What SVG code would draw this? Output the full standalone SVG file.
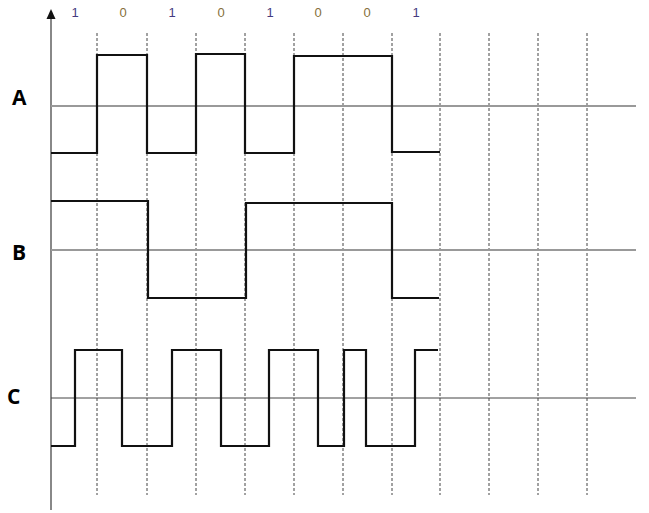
<svg xmlns="http://www.w3.org/2000/svg" width="649" height="513" viewBox="0 0 649 513">
<style>
.grid{stroke:#444;stroke-width:1;stroke-dasharray:3,2;fill:none}
.axis{stroke:#999;stroke-width:2;fill:none}
.axisC{stroke:#444;stroke-width:1;fill:none}
.wave{stroke:#111;stroke-width:2.2;fill:none;stroke-linejoin:miter}
.lbl{font-family:"Open Sans","Liberation Sans",sans-serif;font-weight:bold;font-size:21px;fill:#000}
.b1{font-family:"Liberation Sans",Arial,sans-serif;font-size:13px;fill:#453a80;text-anchor:middle}
.b0{font-family:"Liberation Sans",Arial,sans-serif;font-size:13px;fill:#86703a;text-anchor:middle}
</style>
<rect width="649" height="513" fill="#fff"/>
<g id="grid">
<path class="grid" d="M97,33V495M147,33V495M196,33V495M245,33V495M294,33V495M343,33V495M392,33V495M440,33V495M489,33V495M538,33V495M587,33V495"/>
</g>
<g id="axes">
<path d="M51,510V16" stroke="#888" stroke-width="2" fill="none"/>
<polygon points="51,9 46.5,19 55.5,19" fill="#111"/>
<path class="axis" d="M51,106H636M51,250H636"/>
<path class="axisC" d="M51,398H636"/>
</g>
<g id="bits">
<text class="b1" x="75" y="17">1</text>
<text class="b0" x="123" y="17">0</text>
<text class="b1" x="172" y="17">1</text>
<text class="b0" x="221" y="17">0</text>
<text class="b1" x="270" y="17">1</text>
<text class="b0" x="318" y="17">0</text>
<text class="b0" x="367" y="17">0</text>
<text class="b1" x="416" y="17">1</text>
</g>
<g id="A">
<text class="lbl" x="12" y="105">A</text>
<path class="wave" d="M51,153H97V55H147V153H196V54H245V153H294V56H392V152H440"/>
</g>
<g id="B">
<text class="lbl" x="12" y="260">B</text>
<path class="wave" d="M51,201H148V298H246V203H392V298H439"/>
</g>
<g id="C">
<text class="lbl" x="7" y="404">C</text>
<path class="wave" d="M51,446H75V350H122V446H172V350H221V446H269V350H318V446H344V350H366V446H415V350H438"/>
</g>
</svg>
